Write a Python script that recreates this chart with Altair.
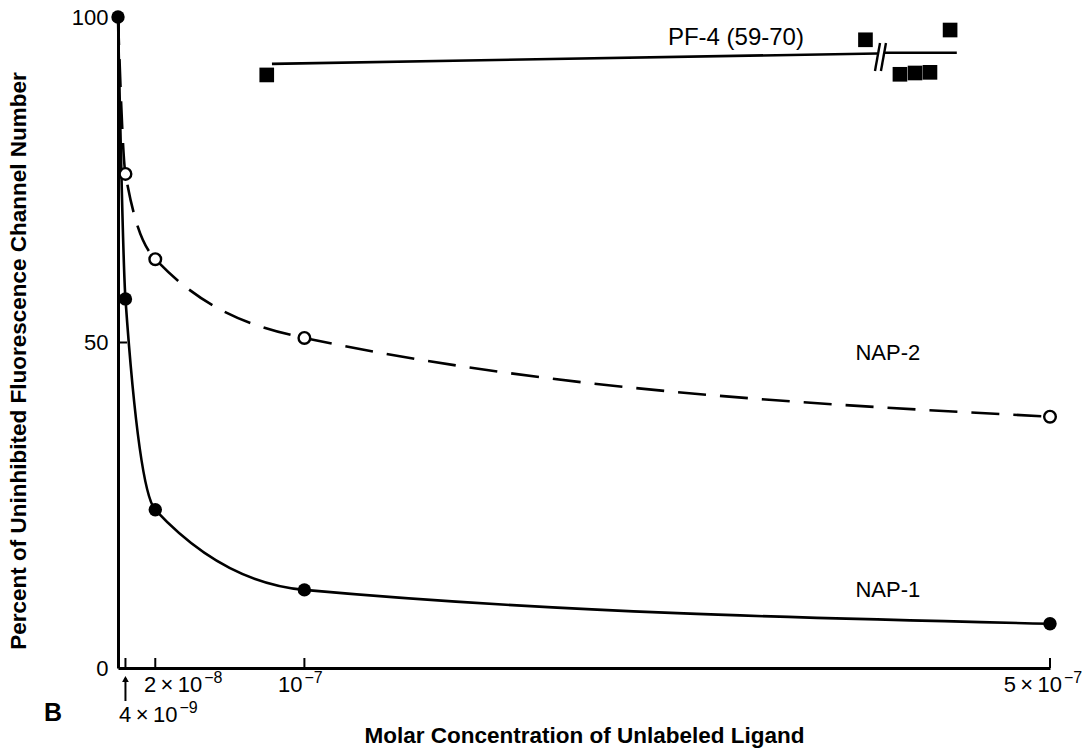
import altair as alt
import pandas as pd

# ---------------- data ----------------
nap1_conc = [0, 4e-9, 2e-8, 1e-7, 5e-7]
nap1_pct = [100, 56.7, 24.3, 12.0, 6.8]

nap2_line_conc = [0, 4e-9, 2e-8, 1e-7, 5e-7]
nap2_line_pct = [100, 75.9, 62.8, 50.7, 38.6]
nap2_pts_conc = [4e-9, 2e-8, 1e-7, 5e-7]
nap2_pts_pct = [75.9, 62.8, 50.7, 38.6]

pf4_conc = [7.98e-8, 4.01e-7, 4.195e-7, 4.276e-7, 4.356e-7, 4.464e-7]
pf4_pct = [91.1, 96.5, 91.2, 91.4, 91.5, 98.0]

pf4_fit1_conc = [8.26e-8, 4.075e-7]
pf4_fit1_pct = [92.8, 94.4]
pf4_fit2_conc = [4.11e-7, 4.50e-7]
pf4_fit2_pct = [94.5, 94.5]

# axis-break marks on the PF-4 line (two slanted strokes)
break_x1 = [4.061e-7, 4.093e-7]
break_x2 = [4.088e-7, 4.120e-7]
break_y1 = [91.7, 91.7]
break_y2 = [96.0, 96.0]

x_tick_values = [4e-9, 2e-8, 1e-7, 5e-7]
x_tick_bases = ["4\u2009×\u200910", "2\u2009×\u200910", "10", "5\u2009×\u200910"]
x_tick_exponents = ["−9", "−8", "−7", "−7"]
y_tick_values = [0, 50, 100]

series_labels = ["PF-4 (59-70)", "NAP-2", "NAP-1"]
series_label_x = [3.315e-7, 4.13e-7, 4.13e-7]
series_label_y = [96.8, 48.4, 12.0]

# ---------------- layout / style ----------------
FONT = "Liberation Sans"
W, H = 932, 651
# pixel offset from each x tick to the point where base text ends and exponent starts
label_split_dx = [52, 47, -2, 12]
# baseline of the base text below the x axis (pixels)
label_row_dy = [54, 24, 24, 24]

nap1 = pd.DataFrame({"c": nap1_conc, "p": nap1_pct})
nap2_line = pd.DataFrame({"c": nap2_line_conc, "p": nap2_line_pct})
nap2_pts = pd.DataFrame({"c": nap2_pts_conc, "p": nap2_pts_pct})
pf4 = pd.DataFrame({"c": pf4_conc, "p": pf4_pct})
fit1 = pd.DataFrame({"c": pf4_fit1_conc, "p": pf4_fit1_pct})
fit2 = pd.DataFrame({"c": pf4_fit2_conc, "p": pf4_fit2_pct})
breaks = pd.DataFrame({"c": break_x1, "c2": break_x2, "p": break_y1, "p2": break_y2})
xt = pd.DataFrame({"c": x_tick_values, "base": x_tick_bases, "exp": x_tick_exponents})
labels = pd.DataFrame({"c": series_label_x, "p": series_label_y, "t": series_labels})

xscale = alt.Scale(domain=[0, 5e-7], nice=False, zero=True)
yscale = alt.Scale(domain=[0, 100], nice=False)

x_enc = alt.X(
    "c:Q",
    scale=xscale,
    axis=alt.Axis(
        values=x_tick_values,
        labels=False,
        ticks=False,
        grid=False,
        domainColor="black",
        domainWidth=3,
        title="Molar Concentration of Unlabeled Ligand",
        titleFont=FONT,
        titleFontSize=22.5,
        titleFontWeight="bold",
        titleColor="black",
        titleX=W / 2,
        titleY=67,
        titleAlign="center",
        titleBaseline="middle",
    ),
)
y_enc = alt.Y(
    "p:Q",
    scale=yscale,
    axis=alt.Axis(
        values=y_tick_values,
        ticks=False,
        grid=False,
        domainColor="black",
        domainWidth=3,
        labelFont=FONT,
        labelFontSize=22,
        labelColor="black",
        labelPadding=10,
        labelFlush=False,
        labelOverlap=False,
        title="Percent of Uninhibited Fluorescence Channel Number",
        titleFont=FONT,
        titleFontSize=22.5,
        titleFontWeight="bold",
        titleColor="black",
        titleX=-100,
        titleY=H / 2 + 18,
        titleAngle=-90,
        titleAlign="center",
        titleBaseline="middle",
    ),
)

base_axes = alt.Chart(nap1).mark_line(
    interpolate="monotone", color="black", strokeWidth=2.6
).encode(x=x_enc, y=y_enc)

nap1_pts = alt.Chart(nap1).mark_point(
    shape="circle", filled=True, color="black", size=180, opacity=1
).encode(x="c:Q", y="p:Q")

nap2_l = alt.Chart(nap2_line).mark_line(
    interpolate="monotone", color="black", strokeWidth=2.6, strokeDash=[28, 14]
).encode(x="c:Q", y="p:Q")

nap2_p = alt.Chart(nap2_pts).mark_point(
    shape="circle", filled=True, fill="white", stroke="black", strokeWidth=2.4,
    size=135, opacity=1
).encode(x="c:Q", y="p:Q")

pf4_p = alt.Chart(pf4).mark_point(
    shape="square", filled=True, color="black", size=215, opacity=1
).encode(x="c:Q", y="p:Q")

fit1_l = alt.Chart(fit1).mark_line(color="black", strokeWidth=2.6).encode(x="c:Q", y="p:Q")
fit2_l = alt.Chart(fit2).mark_line(color="black", strokeWidth=2.6).encode(x="c:Q", y="p:Q")

break_l = alt.Chart(breaks).mark_rule(color="black", strokeWidth=2.4).encode(
    x="c:Q", x2="c2:Q", y="p:Q", y2="p2:Q"
)

x_ticks = alt.Chart(xt).mark_rule(color="black", strokeWidth=2).encode(
    x="c:Q", y=alt.value(H - 10), y2=alt.value(H)
)
y_ticks = alt.Chart(pd.DataFrame({"p": [50]})).mark_rule(color="black", strokeWidth=2).encode(
    y="p:Q", x=alt.value(0), x2=alt.value(9)
)

first_tick = xt.iloc[[0]]
arrow_shaft = alt.Chart(first_tick).mark_rule(color="black", strokeWidth=2).encode(
    x="c:Q", y=alt.value(H + 10), y2=alt.value(H + 33)
)
arrow_head = alt.Chart(first_tick).mark_point(
    shape="triangle-up", filled=True, color="black", size=45, opacity=1
).encode(x="c:Q", y=alt.value(H + 11))

tick_label_layers = []
for i in range(len(x_tick_values)):
    row = xt.iloc[[i]]
    tick_label_layers.append(
        alt.Chart(row).mark_text(
            font=FONT, fontSize=22, color="black", align="right", baseline="alphabetic",
            dx=label_split_dx[i],
        ).encode(x="c:Q", y=alt.value(H + label_row_dy[i]), text="base:N")
    )
    tick_label_layers.append(
        alt.Chart(row).mark_text(
            font=FONT, fontSize=16, color="black", align="left", baseline="alphabetic",
            dx=label_split_dx[i] + 2,
        ).encode(x="c:Q", y=alt.value(H + label_row_dy[i] - 9), text="exp:N")
    )

series_text_pf4 = alt.Chart(labels.iloc[[0]]).mark_text(
    font=FONT, fontSize=24, color="black", align="center", baseline="middle"
).encode(x="c:Q", y="p:Q", text="t:N")
series_text_nap = alt.Chart(labels.iloc[1:]).mark_text(
    font=FONT, fontSize=22, color="black", align="center", baseline="middle"
).encode(x="c:Q", y="p:Q", text="t:N")

panel_letter = alt.Chart(pd.DataFrame({"t": ["B"]})).mark_text(
    font=FONT, fontSize=25, fontWeight="bold", color="black", align="center", baseline="middle"
).encode(x=alt.value(-65), y=alt.value(H + 45), text="t:N")

chart = alt.layer(
    base_axes, nap2_l, fit1_l, fit2_l, break_l, x_ticks, y_ticks,
    nap1_pts, nap2_p, pf4_p, arrow_shaft, arrow_head,
    *tick_label_layers,
    series_text_pf4, series_text_nap, panel_letter,
).properties(
    width=W,
    height=H,
    autosize=alt.AutoSizeParams(type="none"),
    padding={"left": 118, "top": 17, "right": 1092 - 118 - W, "bottom": 750 - 17 - H},
    background="white",
).configure_view(stroke=None)

chart.save("out.html", embed_options={"renderer": "svg", "actions": False})
